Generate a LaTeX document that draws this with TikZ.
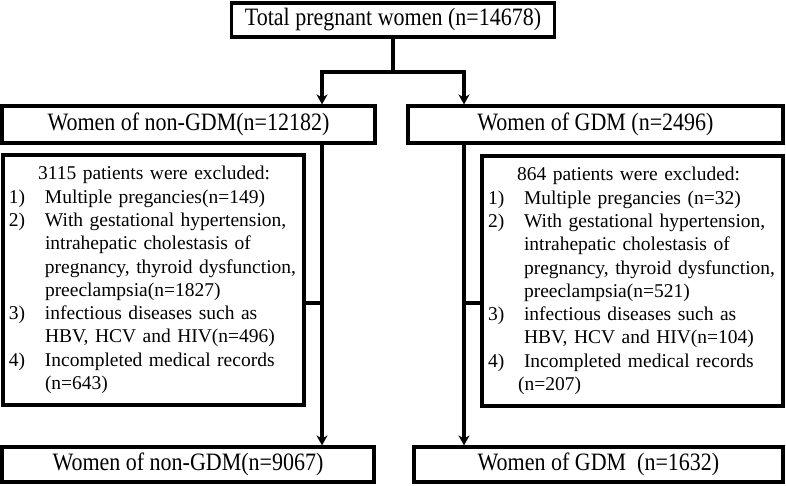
\documentclass[tikz,border=0pt]{standalone}
\usepackage{fontspec}
\setmainfont{Liberation Serif}
\newfontfamily\hdfam[FakeStretch=0.88]{Liberation Serif}
\usetikzlibrary{arrows.meta, positioning, calc}

\newcommand{\hdfont}{\hdfam\fontsize{25}{28}\selectfont}
\newcommand{\exfont}{\fontsize{19.5}{23.3}\selectfont}
\newcommand{\exitem}[2]{\makebox[36pt][l]{#1}#2}
\newcommand{\exmore}[1]{\hspace*{36pt}#1}
\newcommand{\exhead}[1]{\hspace*{29pt}#1}

\tikzset{
  % --- Hop tieu de ------------------------------------------
  hbox/.style={draw, line width=3.2pt, minimum height=35pt,
    align=center, font=\hdfont, inner sep=0pt},
  % --- Hop loai tru -----------------------------------------
  exbox/.style={draw, line width=3.2pt, minimum height=250pt,
    text width=289pt, align=left, font=\exfont, inner xsep=6pt},
  fl/.style={-{Stealth[length=10pt, width=11pt]}, line width=3.2pt},
  fline/.style={line width=3.2pt}
}

\begin{document}
\begin{tikzpicture}[x=1pt, y=-1pt]
  \useasboundingbox (0,0) rectangle (786,485);

  \node[hbox, minimum width=323pt, minimum height=34pt] (T) at (393,20)
    {Total pregnant women (n=14678)};

  \node[hbox, minimum width=373pt, minimum height=37pt] (NL) at (188.5,124.5)
    {Women of non-GDM(n=12182)};
  \node[hbox, minimum width=375pt, minimum height=37pt] (NR) at (595.5,124.5)
    {Women of GDM (n=2496)};

  \node[exbox] (EL) at (153.5,280)
    {\exhead{3115 patients were excluded:}\\
     \exitem{1)}{Multiple pregancies(n=149)}\\
     \exitem{2)}{With gestational hypertension,}\\
     \exmore{intrahepatic cholestasis of}\\
     \exmore{pregnancy, thyroid dysfunction,}\\
     \exmore{preeclampsia(n=1827)}\\
     \exitem{3)}{infectious diseases such as}\\
     \exmore{HBV, HCV and HIV(n=496)}\\
     \exitem{4)}{Incompleted medical records}\\
     \exmore{(n=643)}};
  \node[exbox] (ER) at (632.5,281)
    {\exhead{864 patients were excluded:}\\
     \exitem{1)}{Multiple pregancies (n=32)}\\
     \exitem{2)}{With gestational hypertension,}\\
     \exmore{intrahepatic cholestasis of}\\
     \exmore{pregnancy, thyroid dysfunction,}\\
     \exmore{preeclampsia(n=521)}\\
     \exitem{3)}{infectious diseases such as}\\
     \exmore{HBV, HCV and HIV(n=104)}\\
     \exitem{4)}{Incompleted medical records}\\
     \hspace*{30pt}(n=207)};

  \node[hbox, minimum width=372pt] (BL) at (188,464.5)
    {Women of non-GDM(n=9067)};
  \node[hbox, minimum width=369pt] (BR) at (598.5,464.5)
    {Women of GDM~ (n=1632)};

  % --- Tach thanh hai nhom ---
  \coordinate (split) at (393,72);
  \draw[fline] (T.south) -- (split);
  \draw[fl] (split) -| ([xshift=133.5pt]NL.north);
  \draw[fl] (split) -| ([xshift=-131.5pt]NR.north);

  % --- Truc doc va nhanh loai tru ---
  \coordinate (ltop) at ([xshift=133.5pt]NL.south);
  \coordinate (rtop) at ([xshift=-131.5pt]NR.south);
  \draw[fl] (ltop) -- (ltop |- BL.north);
  \draw[fl] (rtop) -- (rtop |- BR.north);
  \draw[fline] ([yshift=-23pt]EL.east) -- ([yshift=-23pt]EL.east -| ltop);
  \draw[fline] ([yshift=-22pt]ER.west) -- ([yshift=-22pt]ER.west -| rtop);

\end{tikzpicture}
\end{document}
